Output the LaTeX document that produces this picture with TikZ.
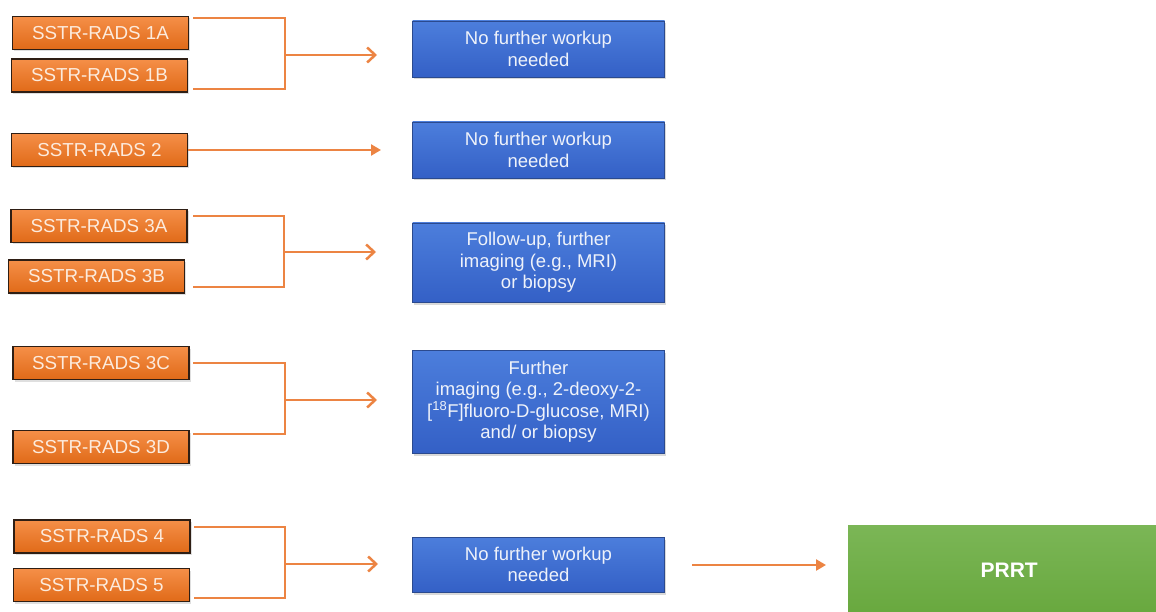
\documentclass[tikz,border=0pt]{standalone}
\usepackage{fontspec}
\setmainfont{Liberation Sans}
\usetikzlibrary{arrows.meta,shadows}
\definecolor{orfill}{HTML}{EE7E34}
\definecolor{ortop}{HTML}{F58F48}
\definecolor{orbot}{HTML}{E06A18}
\definecolor{orborder}{HTML}{2E1E14}
\definecolor{ortext}{HTML}{FCEBDD}
\definecolor{orline}{HTML}{EC8443}
\definecolor{bltop}{HTML}{4C7EDC}
\definecolor{blbot}{HTML}{3460C6}
\definecolor{blborder}{HTML}{2B4A8E}
\definecolor{bltext}{HTML}{EEF2FA}
\definecolor{grtop}{HTML}{7BB656}
\definecolor{grbot}{HTML}{68A83E}
\tikzset{
  radsbox/.style={draw=orborder, line width=1.8pt, top color=ortop, bottom color=orbot,
    minimum width=176pt, minimum height=33pt, inner sep=0pt, text=ortext,
    font=\fontsize{18.8}{21.5}\selectfont,
    drop shadow={opacity=0.25, shadow xshift=1.5pt, shadow yshift=-2pt}},
  actbox/.style={draw=blborder, line width=0.8pt, top color=bltop, bottom color=blbot,
    minimum width=252pt, inner sep=0pt, text=bltext, align=center,
    font=\fontsize{18.5}{21.5}\selectfont,
    drop shadow={opacity=0.3, shadow xshift=1.5pt, shadow yshift=-2.5pt}},
  prrtbox/.style={top color=grtop, bottom color=grbot, draw=none,
    minimum width=308pt, minimum height=90pt, inner sep=0pt, text=white,
    font=\fontsize{21}{24}\selectfont\bfseries},
  link/.style={draw=orline, line width=2.5pt},
  openarrow/.style={link, -{Straight Barb[length=8pt,width=15pt,line width=2.5pt]}},
  fillarrow/.style={link, -{Triangle[length=10pt,width=11pt]}}
}
\begin{document}
\begin{tikzpicture}[x=1pt,y=-1pt]
\useasboundingbox (0,0) rectangle (1156,612);
% left orange boxes
\node[radsbox] (r1a) at (100.5,33) {SSTR-RADS 1A};
\node[radsbox] (r1b) at (99.5,75.5) {SSTR-RADS 1B};
\node[radsbox] (r2)  at (99.5,150) {SSTR-RADS 2};
\node[radsbox] (r3a) at (99,226) {SSTR-RADS 3A};
\node[radsbox] (r3b) at (96.5,276.5) {SSTR-RADS 3B};
\node[radsbox] (r3c) at (101,363) {SSTR-RADS 3C};
\node[radsbox] (r3d) at (101,447) {SSTR-RADS 3D};
\node[radsbox] (r4)  at (102,536.5) {SSTR-RADS 4};
\node[radsbox] (r5)  at (101.5,585) {SSTR-RADS 5};
% blue boxes
\node[actbox, minimum height=56pt] (b1) at (538.5,49) {No further workup\\needed};
\node[actbox, minimum height=56pt] (b2) at (538.5,150) {No further workup\\needed};
\node[actbox, minimum height=79pt] (b3) at (538.5,262.5) {Follow-up, further\\imaging (e.g., MRI)\\or biopsy};
\node[actbox, minimum height=103pt] (b4) at (538.5,401.5) {Further\\imaging (e.g., 2-deoxy-2-\\{}[\textsuperscript{18}F]fluoro-D-glucose, MRI)\\and/ or biopsy};
\node[actbox, minimum height=55pt] (b5) at (538.5,564.5) {No further workup\\needed};
% PRRT
\node[prrtbox, anchor=north west, text width=308pt, align=center] (p) at (848,525) {\hspace*{14pt}PRRT};
% bracket coordinates
\coordinate (s1t) at (193,18);  \coordinate (s1b) at (193,89);
\coordinate (k1t) at (285,18);  \coordinate (k1b) at (285,89);
\coordinate (k1m) at (285,55);  \coordinate (e1) at (377,55);
\coordinate (e2) at (381,150);
\coordinate (s3t) at (193,216); \coordinate (s3b) at (193,287);
\coordinate (k3t) at (284,216); \coordinate (k3b) at (284,287);
\coordinate (k3m) at (284,252); \coordinate (e3) at (376,252);
\coordinate (s4t) at (193,363); \coordinate (s4b) at (193,434);
\coordinate (k4t) at (285,363); \coordinate (k4b) at (285,434);
\coordinate (k4m) at (285,400); \coordinate (e4) at (377,400);
\coordinate (s5t) at (194,527); \coordinate (s5b) at (194,598);
\coordinate (k5t) at (285,527); \coordinate (k5b) at (285,598);
\coordinate (k5m) at (285,564); \coordinate (e5) at (378,564);
\coordinate (a6s) at (692,565); \coordinate (a6e) at (826,565);
% connectors
\draw[link] (s1t) -- (k1t) -- (k1b) -- (s1b);
\draw[openarrow] (k1m) -- (e1);
\draw[fillarrow] (r2.east) -- (e2);
\draw[link] (s3t) -- (k3t) -- (k3b) -- (s3b);
\draw[openarrow] (k3m) -- (e3);
\draw[link] (s4t) -- (k4t) -- (k4b) -- (s4b);
\draw[openarrow] (k4m) -- (e4);
\draw[link] (s5t) -- (k5t) -- (k5b) -- (s5b);
\draw[openarrow] (k5m) -- (e5);
\draw[fillarrow] (a6s) -- (a6e);
\end{tikzpicture}
\end{document}
